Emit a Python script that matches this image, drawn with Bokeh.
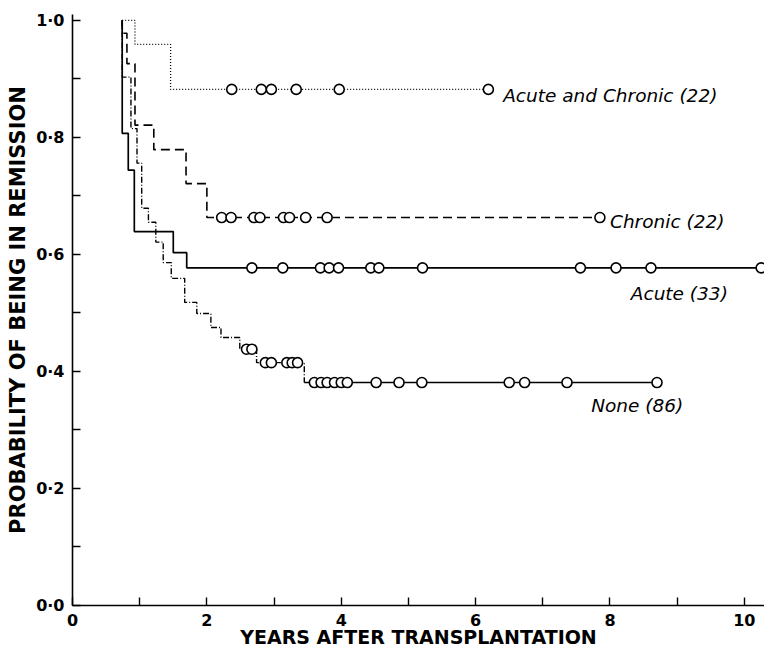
from bokeh.plotting import figure
from bokeh.models import FixedTicker, CustomJSTickFormatter, Range1d
from bokeh.core.properties import value
from bokeh.embed import file_html
from bokeh.resources import INLINE

# ---- data (years after transplantation, probability of remission) ----
ac_start = 0.74
ac_times = [0.93, 1.46]
ac_surv = [0.959, 0.882]
ac_end = 6.19
ac_cens = [2.37, 2.81, 2.96, 3.33, 3.97, 6.19]

ch_start = 0.74
ch_times = [0.74, 0.81, 0.93, 1.21, 1.69, 2.00]
ch_surv = [0.978, 0.926, 0.821, 0.779, 0.721, 0.663]
ch_end = 7.85
ch_cens = [2.22, 2.36, 2.70, 2.79, 3.14, 3.23, 3.47, 3.79, 7.85]

acu_start = 0.74
acu_times = [0.74, 0.83, 0.92, 1.50, 1.70]
acu_surv = [0.807, 0.744, 0.639, 0.603, 0.577]
acu_end = 10.25
acu_cens = [2.67, 3.13, 3.69, 3.82, 3.96, 4.44, 4.56, 5.21, 7.56, 8.09, 8.61, 10.25]

no_start = 0.74
no_times = [0.74, 0.87, 0.96, 1.03, 1.13, 1.24, 1.35, 1.47, 1.67, 1.85,
            2.06, 2.21, 2.49, 2.74, 3.45]
no_surv = [0.903, 0.815, 0.756, 0.679, 0.655, 0.621, 0.586, 0.559, 0.518, 0.499,
           0.475, 0.458, 0.438, 0.415, 0.381]
no_end = 8.70
no_cens = [2.59, 2.67, 2.87, 2.96, 3.19, 3.27, 3.35, 3.60, 3.70, 3.79, 3.90,
           4.00, 4.09, 4.52, 4.86, 5.20, 6.50, 6.73, 7.36, 8.70]

labels = ["Acute and Chronic (22)", "Chronic (22)", "Acute (33)", "None (86)"]
label_x = [6.41, 8.00, 8.31, 7.72]
label_y = [0.872, 0.656, 0.533, 0.342]

x_major = [0, 2, 4, 6, 8, 10]
x_minor = [1, 3, 5, 7, 9]
y_major = [0.0, 0.2, 0.4, 0.6, 0.8, 1.0]
y_minor = [0.1, 0.3, 0.5, 0.7, 0.9]


def step_path(t0, times, surv, tend):
    xs, ys, cur = [t0], [1.0], 1.0
    for t, s in zip(times, surv):
        xs += [t, t]
        ys += [cur, s]
        cur = s
    xs.append(tend)
    ys.append(cur)
    return xs, ys


def cens_y(times, surv, cens):
    out = []
    for c in cens:
        v = 1.0
        for t, s in zip(times, surv):
            if t <= c:
                v = s
        out.append(v)
    return out


p = figure(width=764, height=651, output_backend="svg", toolbar_location=None,
           x_range=Range1d(0, 10.3), y_range=Range1d(0, 1.01),
           min_border_left=72, min_border_right=0, min_border_top=14,
           min_border_bottom=46)
p.outline_line_color = None
p.xgrid.visible = False
p.ygrid.visible = False
p.background_fill_color = "white"

# step lines
xs, ys = step_path(ac_start, ac_times, ac_surv, ac_end)
p.line(xs, ys, line_color="black", line_width=1.3, line_dash="1 2")
xs, ys = step_path(ch_start, ch_times, ch_surv, ch_end)
p.line(xs, ys, line_color="black", line_width=1.6, line_dash="9 5")
xs, ys = step_path(acu_start, acu_times, acu_surv, acu_end)
p.line(xs, ys, line_color="black", line_width=1.7)
xs, ys = step_path(no_start, no_times, no_surv, no_end)
k = len(xs) - 1  # last horizontal run (after final drop) drawn solid
p.line(xs[:k], ys[:k], line_color="black", line_width=1.4, line_dash="6 2 1 2")
p.line(xs[k - 1:], ys[k - 1:], line_color="black", line_width=1.5)

# censored observations
for tt, ss, cc in [(ac_times, ac_surv, ac_cens), (ch_times, ch_surv, ch_cens),
                   (acu_times, acu_surv, acu_cens), (no_times, no_surv, no_cens)]:
    p.scatter(cc, cens_y(tt, ss, cc), marker="circle", size=10,
              fill_color="white", line_color="black", line_width=1.6)

p.text(x=label_x, y=label_y, text=labels, text_font=value("DejaVu Sans"),
       text_font_style="italic", text_font_size="18.5px", text_align="left",
       text_baseline="middle", text_color="black")

for ax in (p.xaxis[0], p.yaxis[0]):
    ax.axis_line_color = "black"
    ax.axis_line_width = 1.6
    ax.major_tick_in = 8
    ax.major_tick_out = 0
    ax.minor_tick_in = 8
    ax.minor_tick_out = 0
    ax.major_tick_line_width = 1.4
    ax.minor_tick_line_width = 1.4
    ax.major_tick_line_color = "black"
    ax.minor_tick_line_color = "black"
    ax.major_label_text_font = "DejaVu Sans"
    ax.major_label_text_font_style = "bold"
    ax.major_label_text_font_size = "16px"
    ax.major_label_text_color = "black"
    ax.axis_label_text_font = "DejaVu Sans"
    ax.axis_label_text_font_style = "bold"
    ax.axis_label_text_color = "black"

p.xaxis.ticker = FixedTicker(ticks=x_major, minor_ticks=x_minor)
p.yaxis.ticker = FixedTicker(ticks=y_major, minor_ticks=y_minor)
p.yaxis.formatter = CustomJSTickFormatter(code="return tick.toFixed(1).replace('.', '\u00b7');")
p.xaxis.axis_label = "YEARS AFTER TRANSPLANTATION"
p.yaxis.axis_label = "PROBABILITY OF BEING IN REMISSION"
p.xaxis.axis_label_text_font_size = "19px"
p.yaxis.axis_label_text_font_size = "21px"
p.xaxis.major_label_standoff = 8
p.yaxis.major_label_standoff = 8
p.xaxis.axis_label_standoff = -3
p.yaxis.axis_label_standoff = 3

open("out.html", "w").write(file_html(p, INLINE))
